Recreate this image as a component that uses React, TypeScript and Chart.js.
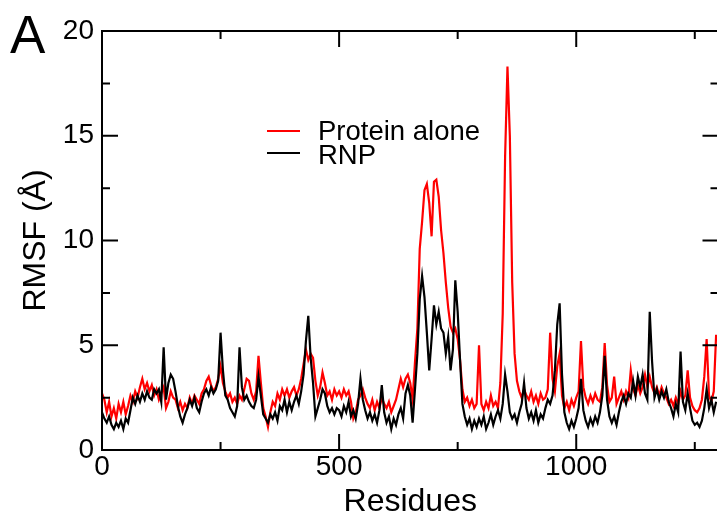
import React, { useEffect, useRef } from "react";
import { Chart, registerables } from "chart.js";

Chart.register(...registerables);

// Residue sampling: one value every 5 residues, starting at residue 0
const RESIDUE_STEP = 5;
const X_MAX = 1300;
const Y_MAX = 20;
const X_TICKS = [0, 250, 500, 750, 1000, 1250];
const X_LABELED = [0, 500, 1000];
const Y_TICKS = [0, 2.5, 5, 7.5, 10, 12.5, 15, 17.5, 20];
const Y_LABELED = [0, 5, 10, 15, 20];
const SERIES_LABELS = ["Protein alone", "RNP"];
const SERIES_COLORS = ["#ff0000", "#000000"];
const PANEL_LETTER = "A";

// RMSF (Å) per residue, protein alone
const proteinAlone = [
  2.7, 2.4, 1.8, 2.3, 1.6, 2.0, 1.5, 2.2, 1.8, 2.3, 1.7, 2.1, 2.6, 2.3, 2.8, 2.5, 3.0, 3.4, 2.9, 3.2,
  2.8, 3.1, 2.6, 2.9, 2.4, 2.7, 3.0, 2.0, 2.3, 2.8, 2.5, 2.4, 2.0, 2.3, 1.9, 2.2, 2.0, 2.5, 2.2, 2.6,
  2.4, 2.2, 2.7, 2.9, 3.3, 3.5, 3.1, 2.8, 3.0, 3.4, 4.0, 3.2, 2.8, 2.5, 2.7, 2.3, 2.5, 2.2, 2.6, 2.4,
  2.9, 3.4, 3.3, 2.7, 2.4, 2.8, 4.5, 3.2, 2.0, 1.6, 1.1, 1.8, 2.3, 2.1, 2.7, 2.4, 2.9, 2.6, 2.9, 2.5,
  2.8, 3.0, 2.6, 2.9, 3.4, 4.1, 4.8, 4.3, 4.6, 4.4, 3.3, 2.6, 3.0, 3.7, 3.2, 2.6, 2.8, 2.4, 2.9, 2.6,
  2.8, 2.5, 2.9, 2.6, 2.8, 2.3, 1.5, 1.8, 2.4, 2.6, 2.9, 2.5, 2.2, 2.0, 2.4, 1.9, 2.3, 2.0, 2.5, 2.2,
  2.0, 2.3, 1.8, 2.1, 2.4, 2.9, 3.4, 3.0, 3.4, 3.6, 3.2, 2.4, 4.2, 5.8, 9.6, 10.9, 12.4, 12.7, 11.8, 10.2,
  12.8, 12.9, 12.1, 10.5, 9.4, 8.0, 6.8, 5.9, 5.6, 5.8, 5.3, 4.3, 2.9, 2.3, 2.5, 2.1, 2.4, 2.0, 2.2, 5.0,
  2.2, 1.9, 2.3, 2.0, 2.6, 2.1, 2.3, 2.0, 3.2, 6.5, 14.0, 18.3, 15.0, 8.0, 4.6, 3.3, 2.8, 2.5, 2.9, 2.6,
  2.4, 2.8, 2.3, 2.6, 2.2, 2.7, 2.4, 2.5, 2.9, 5.6, 3.4, 2.8, 4.0, 4.6, 2.6, 2.0, 2.3, 1.9, 2.4, 2.1,
  2.5, 2.8, 5.2, 3.0, 2.5, 2.2, 2.6, 2.3, 2.7, 2.4, 2.3, 3.0, 5.1, 3.1, 2.3, 2.5, 3.5, 2.2, 2.5, 2.8,
  2.4, 2.8, 2.5, 3.8, 2.9, 2.6, 3.1, 2.7, 3.0, 3.6, 3.0, 3.5, 3.0, 2.7, 3.0, 2.6, 3.0, 2.7, 2.5, 2.2,
  2.4, 2.1, 2.5, 2.2, 2.8, 2.4, 2.6, 3.8, 2.5, 2.1, 1.9, 1.8, 2.0, 2.4, 3.5, 5.3, 2.6, 2.3, 2.8, 5.5,
];

// RMSF (Å) per residue, ribonucleoprotein complex
const rnp = [
  1.8, 1.5, 1.3, 1.6, 1.2, 1.0, 1.3, 1.1, 1.4, 1.0, 1.5, 1.3, 1.9, 2.5, 2.2, 2.6, 2.3, 2.7, 2.4, 2.8,
  2.5, 2.4, 2.9, 2.7, 2.9, 2.3, 4.9, 2.4, 3.2, 3.6, 3.4, 2.8, 2.1, 1.6, 1.3, 1.7, 2.0, 2.4, 2.1, 2.5,
  2.0, 1.8, 2.3, 2.7, 2.9, 2.6, 3.0, 2.7, 2.9, 3.3, 5.6, 3.8, 2.6, 2.4, 2.0, 1.8, 1.6, 2.1, 4.9, 3.0,
  2.4, 2.6, 2.3, 2.1, 2.0, 2.4, 3.5, 2.6, 1.7, 1.5, 1.3, 1.7, 1.5, 1.8, 1.4, 2.1, 1.9, 2.4, 1.8, 2.3,
  1.9, 2.3, 2.6, 2.2, 2.8, 3.6, 5.2, 6.4, 4.4, 3.2, 1.6, 2.0, 2.4, 2.9, 2.7, 2.1, 1.8, 2.0, 1.7, 2.0,
  1.9, 1.6, 2.1, 1.8, 2.3, 1.6, 1.9, 1.5, 2.2, 3.4, 2.4, 1.9, 1.5, 1.8, 1.4, 1.7, 1.3, 1.9, 3.1, 1.8,
  1.3, 1.6, 1.0, 1.5, 1.2, 1.7, 2.0, 1.5, 2.7, 3.1, 2.6, 1.3, 2.9, 4.6, 7.2, 8.3, 7.3, 5.6, 3.8, 5.3,
  6.9, 6.0, 6.6, 5.8, 5.6, 4.6, 5.4, 3.8, 4.8, 8.1, 6.6, 4.3, 2.2, 1.6, 1.2, 1.5, 1.0, 1.4, 1.1, 1.5,
  1.2, 1.6, 1.0, 1.3, 1.7, 1.2, 1.6, 1.9, 1.5, 2.2, 3.6, 2.8, 1.8, 1.5, 1.7, 1.3, 1.8, 2.2, 3.2, 2.0,
  1.5, 1.8, 1.4, 1.9, 1.3, 1.7, 1.5, 2.0, 2.4, 2.2, 2.6, 3.8, 6.0, 7.0, 3.6, 1.8, 1.3, 1.0, 1.4, 1.1,
  1.5, 2.0, 3.4, 1.9, 1.4, 1.1, 1.5, 1.2, 1.6, 1.3, 1.8, 2.6, 4.5, 2.4, 1.6, 1.3, 1.6, 1.2, 1.8, 2.3,
  2.6, 2.2, 2.7, 2.5, 3.3, 2.6, 3.5, 3.0, 3.6, 2.7, 2.4, 6.6, 4.2, 2.5, 2.9, 2.4, 2.8, 2.5, 2.9, 2.3,
  2.0, 1.6, 2.2, 1.8, 4.7, 2.3, 1.9, 2.7, 2.0, 1.4, 1.2, 1.3, 1.1, 1.4, 2.0, 2.9, 2.0, 2.4, 1.8, 2.3,
];

const FONT = '"Liberation Sans", Arial, Helvetica, sans-serif';

const toPoints = (values: number[]) =>
  values.map((v, i) => ({ x: i * RESIDUE_STEP, y: v }));

// Boxed frame with inward ticks on all four sides, inset legend and panel letter
const framePlugin = {
  id: "frameAndLegend",
  afterDraw(chart: any) {
    const { ctx, chartArea, scales } = chart;
    const { left, right, top, bottom } = chartArea;
    const xs = scales.x;
    const ys = scales.y;
    ctx.save();
    ctx.strokeStyle = "#000";
    ctx.lineWidth = 2;
    ctx.strokeRect(left, top, right - left, bottom - top);
    ctx.beginPath();
    X_TICKS.forEach((v) => {
      const px = xs.getPixelForValue(v);
      const len = X_LABELED.includes(v) ? 16 : 8;
      ctx.moveTo(px, bottom);
      ctx.lineTo(px, bottom - len);
      ctx.moveTo(px, top);
      ctx.lineTo(px, top + len);
    });
    Y_TICKS.forEach((v) => {
      const py = ys.getPixelForValue(v);
      const len = Y_LABELED.includes(v) ? 16 : 8;
      ctx.moveTo(left, py);
      ctx.lineTo(left + len, py);
      ctx.moveTo(right, py);
      ctx.lineTo(right - len, py);
    });
    ctx.stroke();

    // legend
    ctx.font = `27.5px ${FONT}`;
    ctx.textBaseline = "middle";
    ctx.textAlign = "left";
    chart.data.datasets.forEach((ds: any, i: number) => {
      const ly = top + 100 + i * 22;
      ctx.strokeStyle = ds.borderColor;
      ctx.lineWidth = 2;
      ctx.beginPath();
      ctx.moveTo(left + 165, ly);
      ctx.lineTo(left + 198, ly);
      ctx.stroke();
      ctx.fillStyle = "#000";
      ctx.fillText(ds.label, left + 216, ly + 1 + i * 2);
    });

    // panel letter
    ctx.font = `53px ${FONT}`;
    ctx.textBaseline = "alphabetic";
    ctx.fillStyle = "#000";
    ctx.fillText(PANEL_LETTER, 10, 53);
    ctx.restore();
  },
};

export default function App() {
  const canvasRef = useRef<HTMLCanvasElement | null>(null);

  useEffect(() => {
    document.body.style.margin = "0";
    const canvas = canvasRef.current;
    if (!canvas) return;
    const chart = new Chart(canvas, {
      type: "line",
      data: {
        datasets: [
          {
            label: SERIES_LABELS[0],
            data: toPoints(proteinAlone),
            borderColor: SERIES_COLORS[0],
            borderWidth: 2.2,
            pointRadius: 0,
            tension: 0,
            order: 1,
          },
          {
            label: SERIES_LABELS[1],
            data: toPoints(rnp),
            borderColor: SERIES_COLORS[1],
            borderWidth: 2.2,
            pointRadius: 0,
            tension: 0,
            order: 0,
          },
        ],
      },
      options: {
        responsive: false,
        maintainAspectRatio: false,
        devicePixelRatio: 1,
        animation: false,
        layout: { padding: { top: 31, right: 21.5, bottom: 0, left: 0 } },
        plugins: { legend: { display: false }, tooltip: { enabled: false } },
        scales: {
          x: {
            type: "linear",
            min: 0,
            max: X_MAX,
            grid: { display: false, drawTicks: false },
            border: { display: false },
            afterBuildTicks: (s: any) => {
              s.ticks = X_LABELED.map((v) => ({ value: v }));
            },
            ticks: {
              autoSkip: false,
              maxRotation: 0,
              padding: 0,
              color: "#000",
              font: { size: 28, family: FONT },
              callback: (v: any) => String(v),
            },
            title: {
              display: true,
              text: "Residues",
              color: "#000",
              font: { size: 32, family: FONT, lineHeight: 1 },
              padding: { top: 0, bottom: 0 },
            },
            afterFit: (s: any) => {
              s.height = 68;
            },
          },
          y: {
            min: 0,
            max: Y_MAX,
            grid: { display: false, drawTicks: false },
            border: { display: false },
            afterBuildTicks: (s: any) => {
              s.ticks = Y_LABELED.map((v) => ({ value: v }));
            },
            ticks: {
              autoSkip: false,
              padding: 8,
              color: "#000",
              font: { size: 28, family: FONT },
              callback: (v: any) => String(v),
            },
            title: {
              display: true,
              text: "RMSF (Å)",
              color: "#000",
              font: { size: 32, family: FONT, lineHeight: 1 },
              padding: { top: 20, bottom: 0 },
            },
            afterFit: (s: any) => {
              s.width = 102;
            },
          },
        },
      },
      plugins: [framePlugin],
    });
    return () => chart.destroy();
  }, []);

  return (
    <div style={{ width: 717, height: 518, overflow: "hidden", position: "relative", background: "#fff" }}>
      <canvas ref={canvasRef} width={740} height={518} style={{ display: "block" }} />
    </div>
  );
}
